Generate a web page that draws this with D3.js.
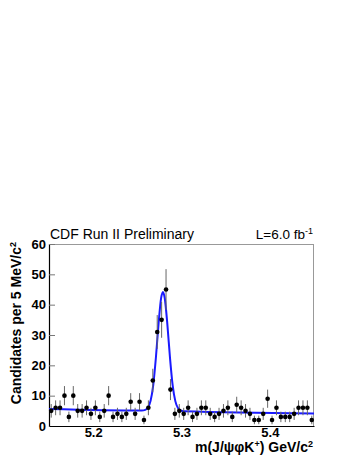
<!DOCTYPE html>
<html>
<head>
<meta charset="utf-8">
<script src="https://cdn.jsdelivr.net/npm/d3@7"></script>
<style>
  body { margin: 0; background: #fff; }
  svg { display: block; font-family: "Liberation Sans", Arial, Helvetica, sans-serif; }
</style>
</head>
<body>
<svg id="chart"></svg>
<script>
// bin centres: 60 bins of 5 MeV between 5.15 and 5.45 GeV
const binLow = 5.15;
const binWidth = 0.005;
const counts = [
  5, 6, 6, 10, 3, 10, 5, 5, 6, 4, 6, 3, 5, 10, 3,
  4, 3, 4, 8, 4, 8, 2, 6,
  15, 31, 35, 45, 12,
  4, 5, 4, 6, 3, 4, 6, 6, 4, 3, 4, 5, 6, 3, 7, 6,
  5, 4, 2, 2, 4, 9, 2, 6, 3, 3, 3, 4, 6, 6, 6, 2
];

// fit curve
const fitX = [5.15, 5.255, 5.259, 5.262, 5.265, 5.268, 5.271, 5.274, 5.277, 5.279,
  5.281, 5.284, 5.287, 5.290, 5.293, 5.296, 5.299, 5.303, 5.45];
const fitY = [5.6, 5.1, 5.3, 6.1, 8.3, 13.5, 22.5, 33.6, 42.3, 44.2,
  42.2, 33.5, 22.4, 13.4, 8.2, 5.9, 5.1, 4.85, 4.1];

const xTicks = [5.2, 5.3, 5.4];
const yTicks = [0, 10, 20, 30, 40, 50, 60];

const W = 357, H = 462;
const margin = { top: 244, right: 43, bottom: 36, left: 49 };
const width = W - margin.left - margin.right;
const height = H - margin.top - margin.bottom;

const svg = d3.select("#chart").attr("width", W).attr("height", H);
const g = svg.append("g").attr("transform", `translate(${margin.left},${margin.top})`);

const x = d3.scaleLinear().domain([5.15, 5.45]).range([0, width]);
const y = d3.scaleLinear().domain([0, 60]).range([height, 0]);

// frame: top/right grey
g.append("line").attr("x1", 0).attr("x2", width).attr("y1", 0.5).attr("y2", 0.5).attr("stroke", "#999");
g.append("line").attr("x1", width - 0.5).attr("x2", width - 0.5).attr("y1", 0).attr("y2", height).attr("stroke", "#999");

// y axis
const yAxis = g.append("g")
  .call(d3.axisLeft(y).tickValues(yTicks).tickSize(-6).tickPadding(3).tickFormat(d3.format("d")));
yAxis.select(".domain").attr("stroke", "#000").attr("stroke-width", 1.2);
yAxis.selectAll(".tick line").attr("stroke", "#777");
yAxis.selectAll("text")
  .attr("font-size", 13).attr("font-weight", "bold").attr("fill", "#000")
  .attr("font-family", "Liberation Sans, Arial, sans-serif");

// x axis
const xAxis = g.append("g").attr("transform", `translate(0,${height})`)
  .call(d3.axisBottom(x).tickValues(xTicks).tickSize(0).tickPadding(2).tickFormat(d3.format(".1f")));
xAxis.select(".domain").attr("stroke", "#000").attr("stroke-width", 1.2);
xAxis.selectAll("text")
  .attr("font-size", 13).attr("font-weight", "bold").attr("fill", "#000")
  .attr("font-family", "Liberation Sans, Arial, sans-serif");

// fit curve
const line = d3.line()
  .x((d, i) => x(fitX[i]))
  .y(d => y(d))
  .curve(d3.curveMonotoneX);
g.append("path")
  .datum(fitY)
  .attr("d", line)
  .attr("fill", "none")
  .attr("stroke", "#1a1aff")
  .attr("stroke-width", 2);

// data points with poisson errors
const pts = counts.map((c, i) => ({ x: binLow + (i + 0.5) * binWidth, n: c }));
g.selectAll(".err").data(pts).enter().append("line")
  .attr("class", "err")
  .attr("x1", d => x(d.x)).attr("x2", d => x(d.x))
  .attr("y1", d => y(d.n + Math.sqrt(d.n)))
  .attr("y2", d => y(Math.max(0, d.n - Math.sqrt(d.n))))
  .attr("stroke", "#666").attr("stroke-width", 1);
g.selectAll(".pt").data(pts).enter().append("circle")
  .attr("class", "pt")
  .attr("cx", d => x(d.x)).attr("cy", d => y(d.n))
  .attr("r", 2.3).attr("fill", "#000");

// titles
svg.append("text")
  .attr("x", 50).attr("y", 239)
  .attr("font-size", 14)
  .text("CDF Run II Preliminary");

const lum = svg.append("text")
  .attr("x", 313).attr("y", 239)
  .attr("font-size", 13.5)
  .attr("text-anchor", "end");
lum.append("tspan").text("L=6.0 fb");
lum.append("tspan").attr("font-size", 9).attr("dy", -5).text("-1");

const xt = svg.append("text")
  .attr("x", 313).attr("y", 452)
  .attr("font-size", 14).attr("font-weight", "bold")
  .attr("text-anchor", "end");
xt.append("tspan").text("m(J/ψφK");
xt.append("tspan").attr("font-size", 9).attr("dy", -5).text("+");
xt.append("tspan").attr("dy", 5).text(") GeV/c");
xt.append("tspan").attr("font-size", 9).attr("dy", -5).text("2");

const yt = svg.append("text")
  .attr("transform", "translate(21,242) rotate(-90)")
  .attr("font-size", 14).attr("font-weight", "bold")
  .attr("text-anchor", "end");
yt.append("tspan").text("Candidates per 5 MeV/c");
yt.append("tspan").attr("font-size", 9).attr("dy", -5).text("2");
</script>
</body>
</html>
